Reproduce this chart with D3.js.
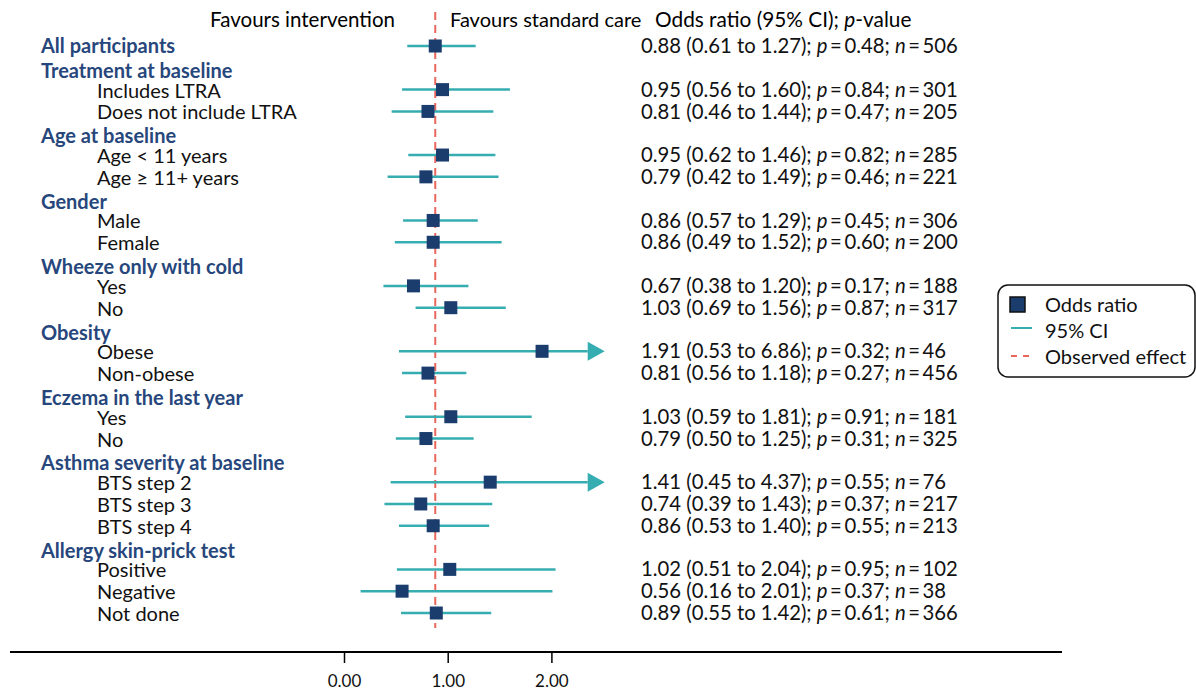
<!DOCTYPE html>
<html>
<head>
<meta charset="utf-8">
<script src="https://cdn.jsdelivr.net/npm/d3@7"></script>
<style>
  body { margin: 0; background: #fff; }
  svg { font-family: Lato, "Open Sans", sans-serif; }
</style>
</head>
<body>
<div id="forest"></div>
<script>
// rows, top to bottom; headers have no estimate
var labels = ["All participants", "Treatment at baseline", "Includes LTRA", "Does not include LTRA",
  "Age at baseline", "Age < 11 years", "Age \u2265 11+ years", "Gender", "Male", "Female",
  "Wheeze only with cold", "Yes", "No", "Obesity", "Obese", "Non-obese",
  "Eczema in the last year", "Yes", "No", "Asthma severity at baseline", "BTS step 2", "BTS step 3", "BTS step 4",
  "Allergy skin-prick test", "Positive", "Negative", "Not done"];
var isHeader = [1, 1, 0, 0, 1, 0, 0, 1, 0, 0, 1, 0, 0, 1, 0, 0, 1, 0, 0, 1, 0, 0, 0, 1, 0, 0, 0];
var oddsRatio = [0.88, null, 0.95, 0.81, null, 0.95, 0.79, null, 0.86, 0.86, null, 0.67, 1.03, null, 1.91, 0.81,
  null, 1.03, 0.79, null, 1.41, 0.74, 0.86, null, 1.02, 0.56, 0.89];
var ciLow = [0.61, null, 0.56, 0.46, null, 0.62, 0.42, null, 0.57, 0.49, null, 0.38, 0.69, null, 0.53, 0.56,
  null, 0.59, 0.50, null, 0.45, 0.39, 0.53, null, 0.51, 0.16, 0.55];
var ciHigh = [1.27, null, 1.60, 1.44, null, 1.46, 1.49, null, 1.29, 1.52, null, 1.20, 1.56, null, 6.86, 1.18,
  null, 1.81, 1.25, null, 4.37, 1.43, 1.40, null, 2.04, 2.01, 1.42];
var pValue = ["0.48", null, "0.84", "0.47", null, "0.82", "0.46", null, "0.45", "0.60", null, "0.17", "0.87", null,
  "0.32", "0.27", null, "0.91", "0.31", null, "0.55", "0.37", "0.55", null, "0.95", "0.37", "0.61"];
var nValue = [506, null, 301, 205, null, 285, 221, null, 306, 200, null, 188, 317, null, 46, 456,
  null, 181, 325, null, 76, 217, 213, null, 102, 38, 366];
var xTicks = [0, 1, 2];
var observed = 0.88;

var width = 1196, height = 691;
var navy = "#1b3d6e", teal = "#36adb0", coral = "#e8665c", headBlue = "#27477c";
var fs = 20;

var svg = d3.select("#forest").append("svg")
  .attr("width", width).attr("height", height);

var x = d3.scaleLinear().domain([0, 2]).range([344, 551.4]);
var y = d3.scaleLinear().domain([0, labels.length - 1]).range([46, 613]);
var xClip = 2.35;

var rows = labels.map(function(l, i) {
  return { label: l, header: isHeader[i], or: oddsRatio[i], lo: ciLow[i], hi: ciHigh[i],
    p: pValue[i], n: nValue[i], i: i };
});
var est = rows.filter(function(d) { return d.or != null; });

// column headings
svg.append("text").attr("x", 395).attr("y", 20).attr("dy", "0.35em")
  .attr("text-anchor", "end").attr("font-size", 20.5).text("Favours intervention");
svg.append("text").attr("x", 450).attr("y", 20).attr("dy", "0.35em")
  .attr("font-size", 20).text("Favours standard care");
var hd = svg.append("text").attr("x", 655).attr("y", 20).attr("dy", "0.35em").attr("font-size", 20.8);
hd.append("tspan").text("Odds ratio (95% CI); ");
hd.append("tspan").attr("font-style", "italic").text("p");
hd.append("tspan").text("-value");

// row labels
svg.selectAll(".lab").data(rows).enter().append("text")
  .attr("class", "lab")
  .attr("x", function(d) { return d.header ? 41 : 97; })
  .attr("y", function(d) { return y(d.i) + (d.i == 0 ? 0 : d.header ? 3 : 1); })
  .attr("dy", "0.35em")
  .attr("font-size", fs)
  .attr("font-weight", function(d) { return d.header ? 700 : 400; })
  .attr("fill", function(d) { return d.header ? headBlue : "#111"; })
  .text(function(d) { return d.label; });

// observed effect line
svg.append("line")
  .attr("x1", x(observed)).attr("x2", x(observed))
  .attr("y1", 12).attr("y2", 628)
  .attr("stroke", coral).attr("stroke-width", 2)
  .attr("stroke-dasharray", "8,5");

// CI lines
svg.selectAll(".ci").data(est).enter().append("line")
  .attr("class", "ci")
  .attr("x1", function(d) { return x(d.lo); })
  .attr("x2", function(d) { return x(Math.min(d.hi, xClip)); })
  .attr("y1", function(d) { return y(d.i); })
  .attr("y2", function(d) { return y(d.i); })
  .attr("stroke", teal).attr("stroke-width", 2.5);

// arrows for clipped CIs
svg.selectAll(".arrow").data(est.filter(function(d) { return d.hi > xClip; })).enter().append("path")
  .attr("class", "arrow")
  .attr("d", function(d) {
    var x0 = x(xClip), yy = y(d.i);
    return "M" + x0 + "," + (yy - 9.5) + "L" + (x0 + 17) + "," + yy + "L" + x0 + "," + (yy + 9.5) + "Z";
  })
  .attr("fill", teal);

// point estimates
svg.selectAll(".pt").data(est).enter().append("rect")
  .attr("class", "pt")
  .attr("x", function(d) { return x(d.or) - 6.5; })
  .attr("y", function(d) { return y(d.i) - 6.5; })
  .attr("width", 13).attr("height", 13)
  .attr("fill", navy);

// estimate text
var tx = svg.selectAll(".est").data(est).enter().append("text")
  .attr("class", "est")
  .attr("x", 641)
  .attr("y", function(d) { return y(d.i); })
  .attr("dy", "0.35em")
  .attr("font-size", 20.3)
  .attr("fill", "#111");
tx.append("tspan").text(function(d) {
  return d.or.toFixed(2) + " (" + d.lo.toFixed(2) + " to " + d.hi.toFixed(2) + "); ";
});
tx.append("tspan").attr("font-style", "italic").text("p");
tx.append("tspan").text(function(d) { return "\u2009=\u2009" + d.p + "; "; });
tx.append("tspan").attr("font-style", "italic").text("n");
tx.append("tspan").text(function(d) { return "\u2009=\u2009" + d.n; });

// axis
svg.append("line").attr("x1", 10).attr("x2", 1062).attr("y1", 652).attr("y2", 652)
  .attr("stroke", "#000").attr("stroke-width", 2);
var ax = svg.append("g").attr("transform", "translate(0,652)")
  .call(d3.axisBottom(x).tickValues(xTicks).tickFormat(d3.format(".2f")).tickSize(11).tickPadding(12));
ax.select(".domain").remove();
ax.selectAll(".tick line").attr("stroke-width", 1.5);
ax.selectAll("text").attr("font-size", 17).attr("font-family", "Lato, sans-serif").attr("fill", "#111");

// legend
var lg = svg.append("g").attr("transform", "translate(998,285)");
lg.append("rect").attr("x", 0).attr("y", 0).attr("width", 197).attr("height", 92)
  .attr("rx", 10).attr("fill", "#fff").attr("stroke", "#111").attr("stroke-width", 1.5);
lg.append("rect").attr("x", 12).attr("y", 12).attr("width", 15).attr("height", 15)
  .attr("fill", navy).attr("stroke", "#111").attr("stroke-width", 1.5);
lg.append("line").attr("x1", 13).attr("x2", 34).attr("y1", 43).attr("y2", 43)
  .attr("stroke", teal).attr("stroke-width", 2);
lg.append("line").attr("x1", 13).attr("x2", 34).attr("y1", 71).attr("y2", 71)
  .attr("stroke", coral).attr("stroke-width", 2).attr("stroke-dasharray", "6,6");
var lgText = ["Odds ratio", "95% CI", "Observed effect"];
lg.selectAll(".lt").data(lgText).enter().append("text")
  .attr("class", "lt")
  .attr("x", 47)
  .attr("y", function(d, i) { return 20 + i * 26; })
  .attr("dy", "0.35em")
  .attr("font-size", fs)
  .attr("fill", "#111")
  .text(function(d) { return d; });
</script>
</body>
</html>
